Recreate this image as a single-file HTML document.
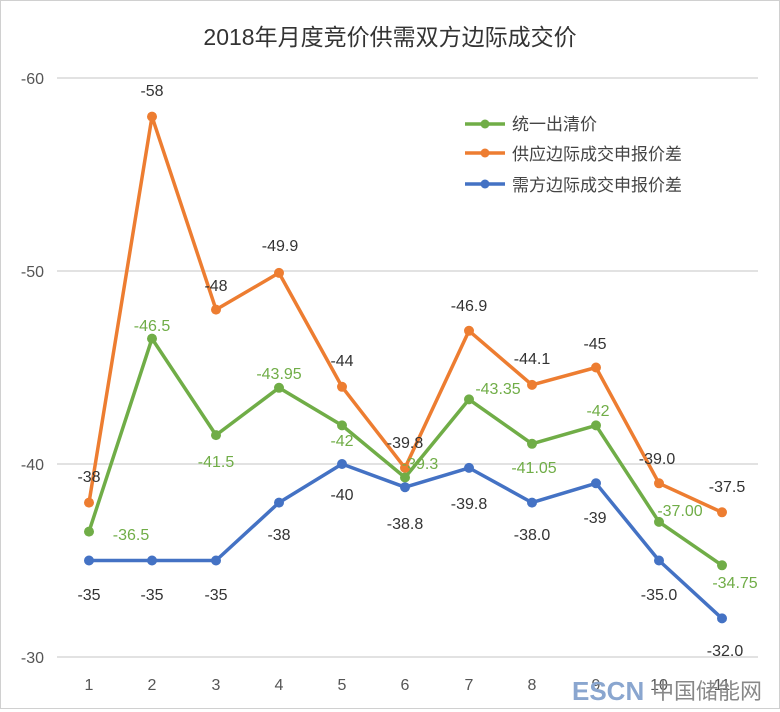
<!DOCTYPE html>
<html><head><meta charset="utf-8"><style>
body{margin:0;background:#fff}
svg{display:block}
text{font-family:"Liberation Sans","Noto Sans CJK SC",sans-serif}
</style></head><body>
<svg width="780" height="712" viewBox="0 0 780 712">
<rect x="0.5" y="0.5" width="779" height="708" fill="#fff" stroke="#d0d0d0"/>
<text x="390" y="45" font-size="23" text-anchor="middle" fill="#333">2018年月度竞价供需双方边际成交价</text>
<g stroke="#d9d9d9" stroke-width="1.5">
<line x1="57" y1="78" x2="758" y2="78"/><line x1="57" y1="271" x2="758" y2="271"/>
<line x1="57" y1="464" x2="758" y2="464"/><line x1="57" y1="657" x2="758" y2="657"/>
</g>
<g font-size="16" fill="#555" text-anchor="end">
<text x="44" y="84">-60</text><text x="44" y="277">-50</text><text x="44" y="470">-40</text><text x="44" y="663">-30</text>
</g>
<g font-size="16" fill="#555" text-anchor="middle">
<text x="89" y="690">1</text><text x="152" y="690">2</text><text x="216" y="690">3</text><text x="279" y="690">4</text><text x="342" y="690">5</text><text x="405" y="690">6</text><text x="469" y="690">7</text><text x="532" y="690">8</text><text x="596" y="690">9</text><text x="659" y="690">10</text><text x="722" y="690">11</text>
</g>
<g fill="none" stroke-width="3.5" stroke-linejoin="round">
<polyline stroke="#ed7d31" points="89,502.6 152,116.6 216,309.6 279,272.9 342,386.8 405,467.9 469,330.8 532,384.9 596,367.5 659,483.3 722,512.3"/>
<polyline stroke="#70ad47" points="89,531.6 152,338.6 216,435.1 279,387.8 342,425.4 405,477.5 469,399.4 532,443.8 596,425.4 659,521.9 722,565.3"/>
<polyline stroke="#4472c4" points="89,560.5 152,560.5 216,560.5 279,502.6 342,464 405,487.2 469,467.9 532,502.6 596,483.3 659,560.5 722,618.4"/>
</g>
<g fill="#ed7d31">
<circle cx="89" cy="502.6" r="5"/><circle cx="152" cy="116.6" r="5"/><circle cx="216" cy="309.6" r="5"/><circle cx="279" cy="272.9" r="5"/><circle cx="342" cy="386.8" r="5"/><circle cx="405" cy="467.9" r="5"/><circle cx="469" cy="330.8" r="5"/><circle cx="532" cy="384.9" r="5"/><circle cx="596" cy="367.5" r="5"/><circle cx="659" cy="483.3" r="5"/><circle cx="722" cy="512.3" r="5"/>
</g>
<g fill="#70ad47">
<circle cx="89" cy="531.6" r="5"/><circle cx="152" cy="338.6" r="5"/><circle cx="216" cy="435.1" r="5"/><circle cx="279" cy="387.8" r="5"/><circle cx="342" cy="425.4" r="5"/><circle cx="405" cy="477.5" r="5"/><circle cx="469" cy="399.4" r="5"/><circle cx="532" cy="443.8" r="5"/><circle cx="596" cy="425.4" r="5"/><circle cx="659" cy="521.9" r="5"/><circle cx="722" cy="565.3" r="5"/>
</g>
<g fill="#4472c4">
<circle cx="89" cy="560.5" r="5"/><circle cx="152" cy="560.5" r="5"/><circle cx="216" cy="560.5" r="5"/><circle cx="279" cy="502.6" r="5"/><circle cx="342" cy="464" r="5"/><circle cx="405" cy="487.2" r="5"/><circle cx="469" cy="467.9" r="5"/><circle cx="532" cy="502.6" r="5"/><circle cx="596" cy="483.3" r="5"/><circle cx="659" cy="560.5" r="5"/><circle cx="722" cy="618.4" r="5"/>
</g>
<g font-size="16" fill="#333" text-anchor="middle">
<text x="89" y="482">-38</text><text x="152" y="96">-58</text><text x="216" y="291">-48</text><text x="280" y="251">-49.9</text><text x="342" y="366">-44</text><text x="405" y="448">-39.8</text><text x="469" y="311">-46.9</text><text x="532" y="364">-44.1</text><text x="595" y="349">-45</text><text x="657" y="464">-39.0</text><text x="727" y="492">-37.5</text>
</g>
<g font-size="16" fill="#70ad47" text-anchor="middle">
<text x="131" y="540">-36.5</text><text x="152" y="331">-46.5</text><text x="216" y="467">-41.5</text><text x="279" y="379">-43.95</text><text x="342" y="446">-42</text><text x="420" y="469">-39.3</text><text x="498" y="394">-43.35</text><text x="534" y="473">-41.05</text><text x="598" y="416">-42</text><text x="680" y="516">-37.00</text><text x="735" y="588">-34.75</text>
</g>
<g font-size="16" fill="#333" text-anchor="middle">
<text x="89" y="600">-35</text><text x="152" y="600">-35</text><text x="216" y="600">-35</text><text x="279" y="540">-38</text><text x="342" y="500">-40</text><text x="405" y="529">-38.8</text><text x="469" y="509">-39.8</text><text x="532" y="540">-38.0</text><text x="595" y="523">-39</text><text x="659" y="600">-35.0</text><text x="725" y="656">-32.0</text>
</g>
<g stroke-width="3.5">
<line x1="465" y1="124" x2="505" y2="124" stroke="#70ad47"/><circle cx="485" cy="124" r="4.5" fill="#70ad47"/>
<line x1="465" y1="153" x2="505" y2="153" stroke="#ed7d31"/><circle cx="485" cy="153" r="4.5" fill="#ed7d31"/>
<line x1="465" y1="184" x2="505" y2="184" stroke="#4472c4"/><circle cx="485" cy="184" r="4.5" fill="#4472c4"/>
</g>
<g font-size="17" fill="#444">
<text x="512" y="130">统一出清价</text><text x="512" y="160">供应边际成交申报价差</text><text x="512" y="191">需方边际成交申报价差</text>
</g>
<text x="572" y="700" font-size="26" font-weight="bold" fill="#8aa6cf">ESCN</text>
<text x="652" y="699" font-size="22" fill="#888">中国储能网</text>
</svg>
</body></html>
